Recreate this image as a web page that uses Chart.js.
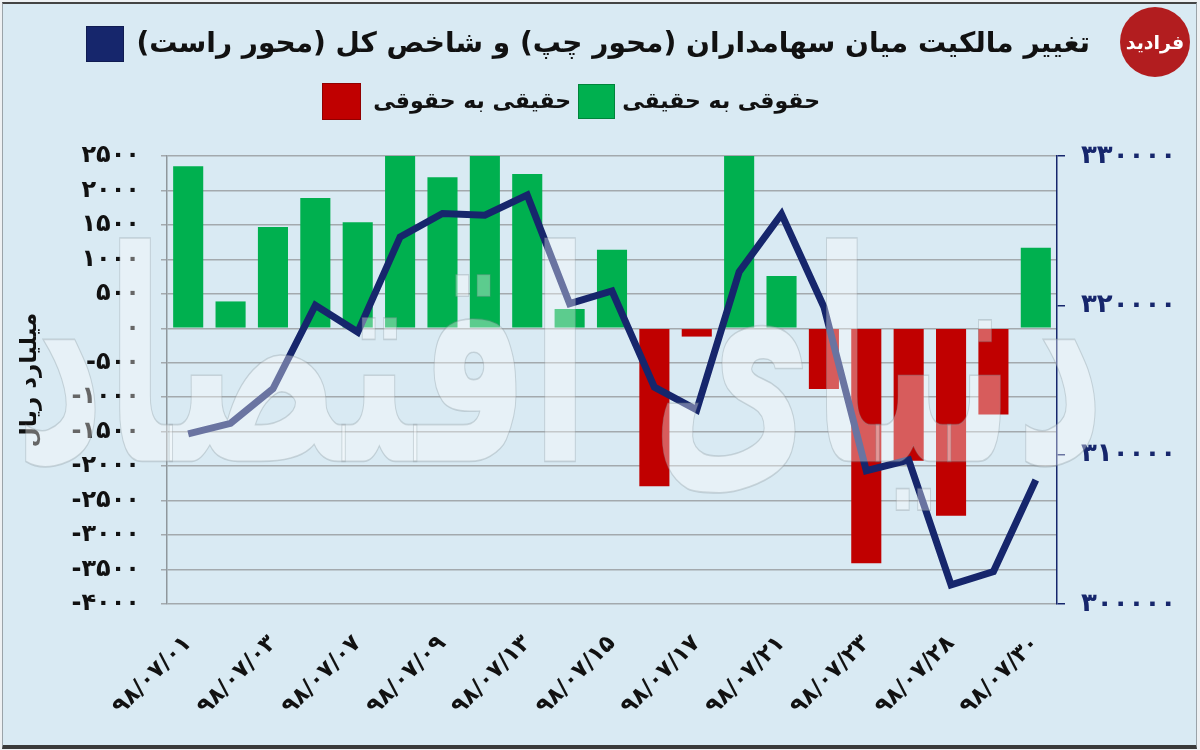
<!DOCTYPE html>
<html lang="fa">
<head>
<meta charset="utf-8">
<title>تغییر مالکیت میان سهامداران</title>
<script src="https://cdn.jsdelivr.net/npm/chart.js@4/dist/chart.umd.min.js"></script>
<style>
  html, body { margin: 0; padding: 0; background: #eef1f3; }
  #frame {
    position: absolute; left: 2px; top: 2px; width: 1193px; height: 741px;
    background: #d9eaf3; border: 1px solid #9aa3a8; border-top: 2px solid #444;
    border-bottom: 4px solid #3a3a3a;
  }
  #chart { position: absolute; left: 0; top: 0; }
  .legend {
    position: absolute; direction: rtl; font-family: "DejaVu Sans", sans-serif;
    font-weight: bold; color: #111; white-space: nowrap;
  }
  .legend .box { display: inline-block; vertical-align: middle; border: 1px solid rgba(0,0,0,0.25); }
  #logo {
    position: absolute; left: 1120px; top: 7px; width: 70px; height: 70px; border-radius: 50%;
    background: #b21d1f; color: #fff; font-family: "DejaVu Sans", sans-serif; font-weight: bold;
    font-size: 19px; line-height: 70px; text-align: center; direction: rtl;
  }
</style>
</head>
<body>
<div id="frame"></div>
<canvas id="chart" width="1200" height="750"></canvas>
<div class="legend" id="row1" style="right:110px; top:26px; font-size:28px;"></div>
<div class="legend" id="row2" style="right:380px; top:83px; font-size:22px;"></div>
<div id="logo">فرادید</div>
<script>
// تاریخ ها (مهر ۹۸)
const dates = ['۹۸/۰۷/۰۱', '۹۸/۰۷/۰۲', '۹۸/۰۷/۰۳', '۹۸/۰۷/۰۶', '۹۸/۰۷/۰۷', '۹۸/۰۷/۰۸', '۹۸/۰۷/۰۹',
  '۹۸/۰۷/۱۰', '۹۸/۰۷/۱۳', '۹۸/۰۷/۱۴', '۹۸/۰۷/۱۵', '۹۸/۰۷/۱۶', '۹۸/۰۷/۱۷', '۹۸/۰۷/۲۰',
  '۹۸/۰۷/۲۱', '۹۸/۰۷/۲۲', '۹۸/۰۷/۲۳', '۹۸/۰۷/۲۴', '۹۸/۰۷/۲۸', '۹۸/۰۷/۲۹', '۹۸/۰۷/۳۰'];

// میلیارد ریال
const legalToReal = [2350, 390, 1470, 1890, 1540, 2700, 2190, 2650, 2240, 280, 1140,
  null, null, 2800, 760, null, null, null, null, null, 1170];
const realToLegal = [null, null, null, null, null, null, null, null, null, null, null,
  -2290, -120, null, null, -880, -3410, -1920, -2720, -1250, null];

// شاخص کل
const indexValues = [311390, 312100, 314410, 320000, 318210, 324580, 326150, 326040, 327380, 320110,
  320960, 314520, 313000, 322240, 326110, 319890, 308930, 309640, 301280, 302170, 308300];

const leftMin = -4000, leftMax = 2500, leftStep = 500;
const rightMin = 300000, rightMax = 330000, rightStep = 10000;

const titleText = 'تغییر مالکیت میان سهامداران (محور چپ) و شاخص کل (محور راست)';
const greenLabel = 'حقوقی به حقیقی';
const redLabel = 'حقیقی به حقوقی';

const GREEN = '#00b04f', RED = '#c00000', NAVY = '#16266c';

function toFa(v) {
  return String(v).replace(/\d/g, d => '۰۱۲۳۴۵۶۷۸۹'[d]);
}

// ته نقش "دنیای اقتصاد"
const watermark = {
  id: 'watermark',
  afterDatasetsDraw(chart) {
    const ctx = chart.ctx;
    ctx.save();
    ctx.font = 'bold 210px "DejaVu Sans"';
    ctx.direction = 'rtl';
    ctx.textAlign = 'center';
    ctx.textBaseline = 'middle';
    const w = ctx.measureText('دنیای اقتصاد').width;
    ctx.translate(560, 385);
    ctx.scale(1090 / w, 1.4);
    ctx.globalAlpha = 0.36;
    ctx.fillStyle = '#ffffff';
    ctx.fillText('دنیای اقتصاد', 0, 0);
    ctx.globalAlpha = 0.3;
    ctx.strokeStyle = '#7d8a92';
    ctx.lineWidth = 1.2;
    ctx.strokeText('دنیای اقتصاد', 0, 0);
    ctx.restore();
  }
};

const chart = new Chart(document.getElementById('chart'), {
  data: {
    labels: dates,
    datasets: [
      {
        type: 'line',
        label: titleText,
        data: indexValues,
        yAxisID: 'y1',
        borderColor: NAVY,
        backgroundColor: NAVY,
        borderWidth: 7,
        pointRadius: 0,
        tension: 0,
        borderJoinStyle: 'miter',
        order: 0
      },
      {
        type: 'bar',
        label: greenLabel,
        data: legalToReal,
        yAxisID: 'y',
        backgroundColor: GREEN,
        grouped: false,
        barPercentage: 0.71,
        categoryPercentage: 1,
        order: 1
      },
      {
        type: 'bar',
        label: redLabel,
        data: realToLegal,
        yAxisID: 'y',
        backgroundColor: RED,
        grouped: false,
        barPercentage: 0.71,
        categoryPercentage: 1,
        order: 1
      }
    ]
  },
  options: {
    responsive: false,
    animation: false,
    layout: { padding: { left: 0, right: 0, top: 156, bottom: 0 } },
    plugins: {
      legend: { display: false },
      tooltip: { enabled: false }
    },
    scales: {
      x: {
        grid: { display: false, drawTicks: false },
        border: { display: false },
        ticks: {
          autoSkip: false,
          maxRotation: 45,
          minRotation: 45,
          padding: 26,
          color: '#111',
          font: { family: 'DejaVu Sans', weight: 'bold', size: 23 },
          callback: (v, i) => (i % 2 === 0 ? dates[i] : '')
        },
        afterFit: s => { s.height = 146; }
      },
      y: {
        position: 'left',
        min: leftMin,
        max: leftMax,
        grid: { color: '#a3a9ad', lineWidth: 1.5, tickLength: 6 },
        border: { color: '#8f979c', width: 1.5 },
        ticks: {
          stepSize: leftStep,
          padding: 21,
          color: '#111',
          font: { family: 'DejaVu Sans', weight: 'bold', size: 24 },
          callback: v => toFa(v)
        },
        title: {
          display: true,
          text: 'میلیارد ریال',
          color: '#111',
          padding: { top: 16, bottom: 0 },
          font: { family: 'DejaVu Sans', weight: 'bold', size: 23 }
        },
        afterFit: s => { s.width = 167; }
      },
      y1: {
        position: 'right',
        min: rightMin,
        max: rightMax,
        grid: { drawOnChartArea: false, color: NAVY, tickLength: 8, lineWidth: 1.5 },
        border: { color: NAVY, width: 1.5 },
        ticks: {
          stepSize: rightStep,
          padding: 16,
          color: NAVY,
          font: { family: 'DejaVu Sans', weight: 'bold', size: 26 },
          callback: v => toFa(v)
        },
        afterFit: s => { s.width = 143; }
      }
    }
  },
  plugins: [watermark]
});

// راهنما (از روی داده های نمودار)
function legendItem(ds, size, gap) {
  const color = ds.type === 'line' ? ds.borderColor : ds.backgroundColor;
  return '<span>' + ds.label + '</span><span class="box" style="width:' + size + 'px;height:' + (size - 2) +
    'px;background:' + color + ';margin-right:' + gap + 'px;"></span>';
}
const dsets = chart.data.datasets;
document.getElementById('row1').innerHTML = legendItem(dsets[0], 36, 12);
document.getElementById('row2').innerHTML = legendItem(dsets[1], 35, 7) +
  '<span style="display:inline-block;width:7px"></span>' + legendItem(dsets[2], 37, 12);
</script>
</body>
</html>
